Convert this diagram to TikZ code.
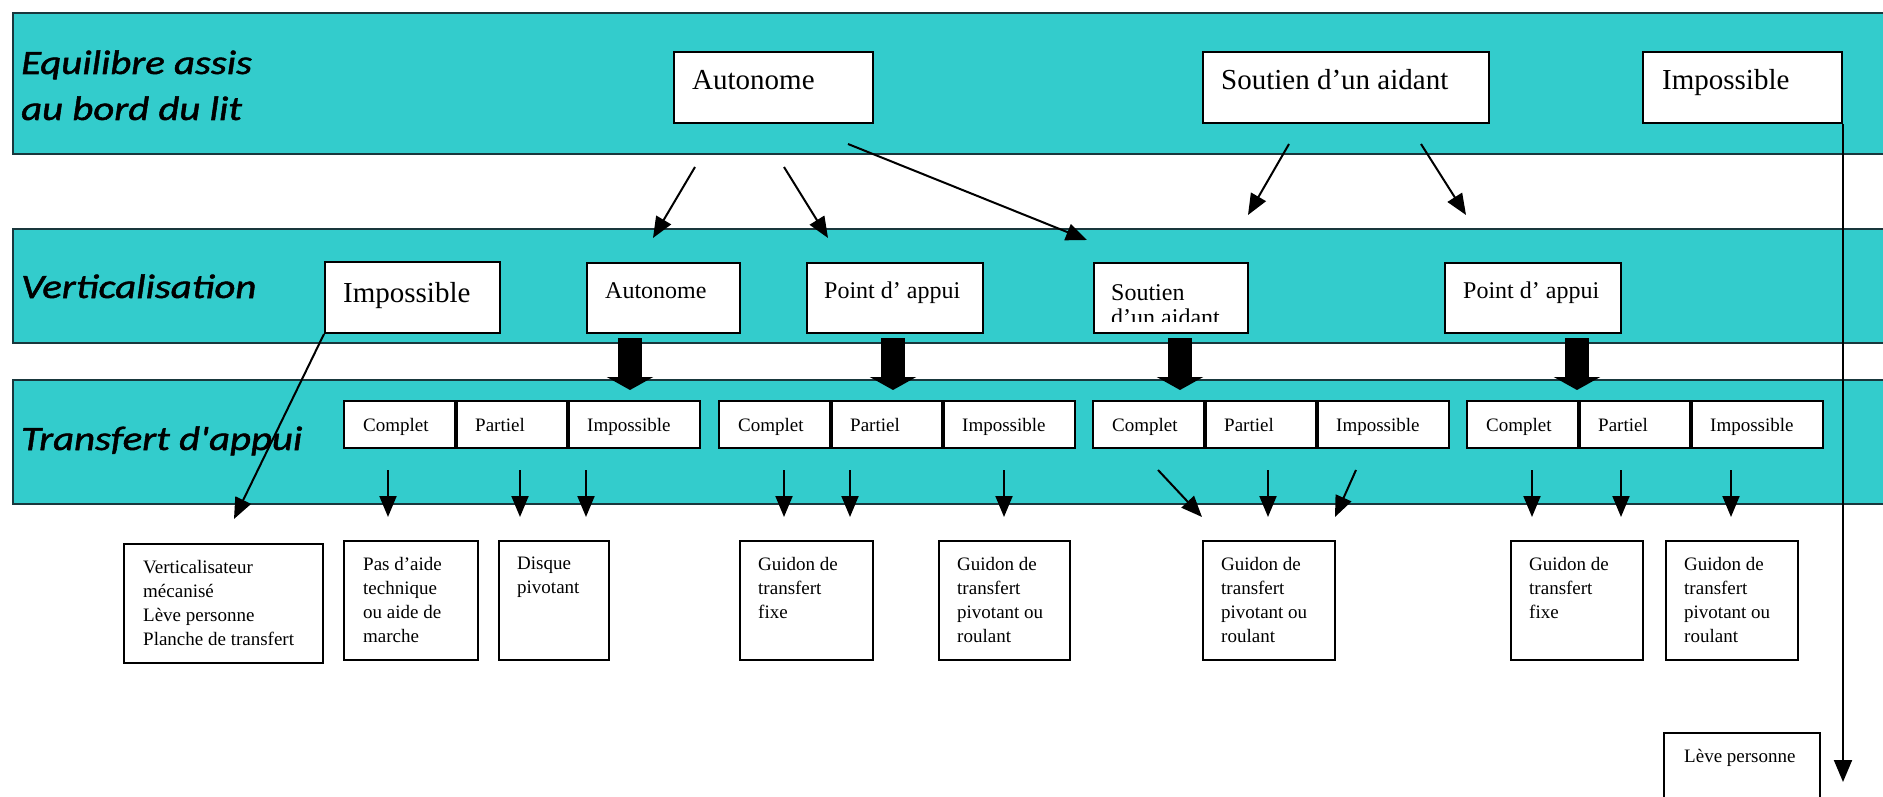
\documentclass[tikz,border=0pt]{standalone}
\usepackage{fontspec}
\setmainfont{Liberation Serif}
\newfontfamily\titlefont[FakeStretch=1.2, FakeBold=1.5]{Carlito Italic}
\usetikzlibrary{arrows.meta}
\usetikzlibrary{calc}

\definecolor{bandcyan}{RGB}{51,204,204}
\definecolor{bandline}{RGB}{25,55,60}

\tikzset{
  band/.style={draw=bandline, line width=2pt, fill=bandcyan, anchor=north west, inner sep=0pt},
  choix/.style={draw, line width=2pt, fill=white, anchor=north west, inner sep=0pt},
  mot/.style={anchor=base west, inner sep=0pt},
  liste/.style={anchor=north west, inner sep=0pt, align=left, font=\fontsize{19}{24}\selectfont},
  titre/.style={anchor=base west, inner sep=0pt, font=\titlefont\fontsize{34}{40}\selectfont},
  gros/.style={font=\fontsize{29}{35}\selectfont},
  moyen/.style={font=\fontsize{24}{23}\selectfont},
  petit/.style={font=\fontsize{19}{24}\selectfont},
  fleche/.style={line width=2pt, -{Triangle[length=21pt,width=17pt]}},
  grosse/.style={line width=24pt, -{Triangle[length=13pt,width=46pt]}},
}

\begin{document}
\begin{tikzpicture}[x=1pt, y=-1pt]
\useasboundingbox (0,0) rectangle (1883,797);
\clip (0,0) rectangle (1883,797);

% bandes
\node[band, minimum width=1890, minimum height=141] (equi) at (12,12) {};
\node[band, minimum width=1890, minimum height=114] (vert) at (12,228) {};
\node[band, minimum width=1890, minimum height=124] (trans) at (12,379) {};
\node[titre] (equit) at (21,74) {Equilibre assis};
\node[titre] (equit2) at (21,120) {au bord du lit};
\node[titre] (vertt) at (21,298) {Verticalisation};
\node[titre] (transt) at (21,450) {Transfert d'appui};

% equilibre assis
\node[choix, minimum width=199, minimum height=71] (aut1) at (673,51) {};
\node[mot, gros] (aut1t) at ($(aut1.north west)+(19,39)$) {Autonome};
\node[choix, minimum width=286, minimum height=71] (sou1) at (1202,51) {};
\node[mot, gros] (sou1t) at ($(sou1.north west)+(19,39)$) {Soutien d’un aidant};
\node[choix, minimum width=199, minimum height=71] (imp1) at (1642,51) {};
\node[mot, gros] (imp1t) at ($(imp1.north west)+(20,39)$) {Impossible};

% verticalisation
\node[choix, minimum width=175, minimum height=71] (imp2) at (324,261) {};
\node[mot, gros] (imp2t) at ($(imp2.north west)+(19,41)$) {Impossible};
\node[choix, minimum width=153, minimum height=70] (aut2) at (586,262) {};
\node[mot, moyen] (aut2t) at ($(aut2.north west)+(19,36)$) {Autonome};
\node[choix, minimum width=176, minimum height=70] (pt2) at (806,262) {};
\node[mot, moyen] (pt2t) at ($(pt2.north west)+(18,36)$) {Point d’ appui};
\node[choix, minimum width=154, minimum height=70] (sou2) at (1093,262) {};
\begin{scope}
  \clip (sou2.north west) rectangle ($(sou2.south east)+(0,-13)$);
  \node[mot, moyen] (sou2t) at ($(sou2.north west)+(18,38)$) {Soutien};
  \node[mot, moyen] (sou2u) at ($(sou2.north west)+(18,63)$) {d’un aidant};
\end{scope}
\node[choix, minimum width=176, minimum height=70] (pt3) at (1444,262) {};
\node[mot, moyen] (pt3t) at ($(pt3.north west)+(19,36)$) {Point d’ appui};

% transfert d'appui
\foreach \gx [count=\k] in {343,718,1092,1466} {
  \node[choix, minimum width=111, minimum height=47] (cp\k) at (\gx,400) {};
  \node[choix, minimum width=110, minimum height=47] (pa\k) at (cp\k.north east) {};
  \node[choix, minimum width=131, minimum height=47] (im\k) at (pa\k.north east) {};
  \node[mot, petit] (cp\k t) at ($(cp\k.west)+(20,7)$) {Complet};
  \node[mot, petit] (pa\k t) at ($(pa\k.west)+(19,7)$) {Partiel};
  \node[mot, petit] (im\k t) at ($(im\k.west)+(19,7)$) {Impossible};
}

% aides techniques
\node[choix, minimum width=199, minimum height=119] (b1) at (123,543) {};
\node[liste] (b1t) at ($(b1.north west)+(20,17)$) {Verticalisateur\\mécanisé\\Lève personne\\Planche de transfert};
\node[choix, minimum width=134, minimum height=119] (b2) at (343,540) {};
\node[liste] (b2t) at ($(b2.north west)+(20,17)$) {Pas d’aide\\technique\\ou aide de\\marche};
\node[choix, minimum width=110, minimum height=119] (b3) at (498,540) {};
\node[liste] (b3t) at ($(b3.north west)+(19,17)$) {Disque\\pivotant};
\node[choix, minimum width=133, minimum height=119] (b4) at (739,540) {};
\node[liste] (b4t) at ($(b4.north west)+(19,17)$) {Guidon de\\transfert\\fixe};
\node[choix, minimum width=131, minimum height=119] (b5) at (938,540) {};
\node[liste] (b5t) at ($(b5.north west)+(19,17)$) {Guidon de\\transfert\\pivotant ou\\roulant};
\node[choix, minimum width=132, minimum height=119] (b6) at (1202,540) {};
\node[liste] (b6t) at ($(b6.north west)+(19,17)$) {Guidon de\\transfert\\pivotant ou\\roulant};
\node[choix, minimum width=132, minimum height=119] (b7) at (1510,540) {};
\node[liste] (b7t) at ($(b7.north west)+(19,17)$) {Guidon de\\transfert\\fixe};
\node[choix, minimum width=132, minimum height=119] (b8) at (1665,540) {};
\node[liste] (b8t) at ($(b8.north west)+(19,17)$) {Guidon de\\transfert\\pivotant ou\\roulant};
\node[choix, minimum width=156, minimum height=100] (b9) at (1663,732) {};
\node[liste] (b9t) at ($(b9.north west)+(21,17)$) {Lève personne};

% fleches entre bandes
\coordinate (a1) at (695,167); \coordinate (a1b) at (653,238);
\coordinate (a2) at (784,167); \coordinate (a2b) at (828,238);
\coordinate (a3) at (848,144); \coordinate (a3b) at (1087,240);
\coordinate (s1) at (1289,144); \coordinate (s1b) at (1248,215);
\coordinate (s2) at (1421,144); \coordinate (s2b) at (1466,215);
\coordinate (lp) at ($(imp1.south east)+(0,658)$);
\coordinate (vm) at (234,519);
\draw[fleche] (a1) -- (a1b);
\draw[fleche] (a2) -- (a2b);
\draw[fleche] (a3) -- (a3b);
\draw[fleche] (s1) -- (s1b);
\draw[fleche] (s2) -- (s2b);
\draw[line width=2pt, -{Triangle[length=22pt,width=18pt]}] (imp1.south east) -- (lp);
\draw[fleche] (imp2.south west) -- (vm);

% grosses fleches
\foreach \x [count=\k] in {630,893,1180,1577} {
  \coordinate (g\k) at (\x,338);
  \coordinate (g\k b) at (\x,390);
  \draw[grosse] (g\k) -- (g\k b);
}

% fleches vers les aides
\foreach \xa/\xb [count=\k] in {388/388,520/520,586/586,784/784,850/850,1004/1004,
    1158/1202,1268/1268,1356/1335,1532/1532,1621/1621,1731/1731} {
  \coordinate (f\k) at (\xa,470);
  \coordinate (f\k b) at (\xb,517);
  \draw[fleche] (f\k) -- (f\k b);
}
\end{tikzpicture}
\end{document}
